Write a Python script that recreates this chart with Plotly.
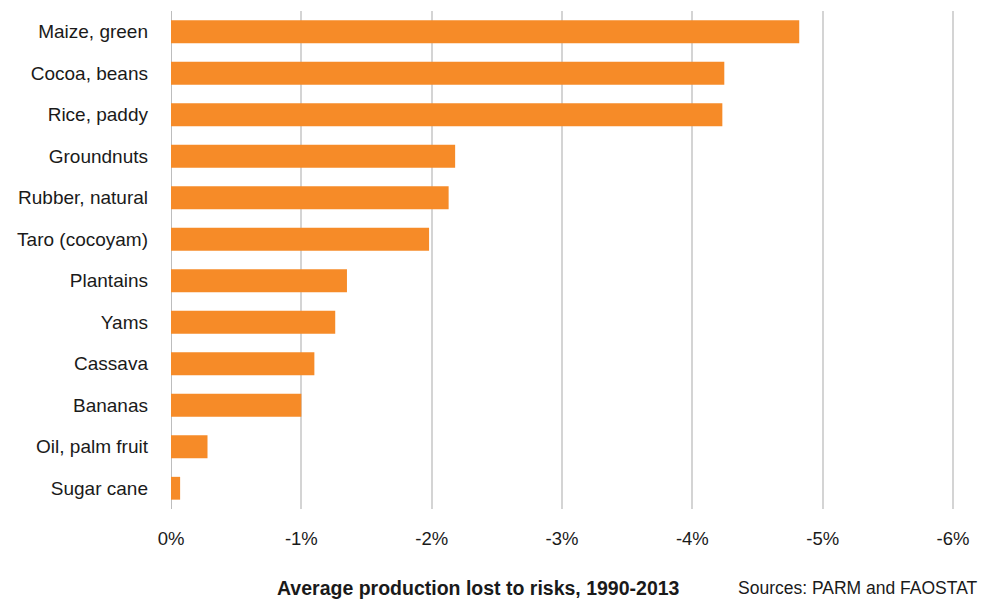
import plotly.graph_objects as go

crops = ["Maize, green", "Cocoa, beans", "Rice, paddy", "Groundnuts", "Rubber, natural",
         "Taro (cocoyam)", "Plantains", "Yams", "Cassava", "Bananas", "Oil, palm fruit", "Sugar cane"]
loss_pct = [-4.82, -4.245, -4.23, -2.18, -2.13, -1.98, -1.35, -1.26, -1.10, -1.00, -0.28, -0.07]

tick_vals = [0, -1, -2, -3, -4, -5, -6]
tick_text = ["0%", "-1%", "-2%", "-3%", "-4%", "-5%", "-6%"]

fig = go.Figure(go.Bar(
    x=loss_pct, y=crops, orientation="h",
    marker=dict(color="#F68B28", line=dict(width=0)),
))

font = "Liberation Sans, Arial, sans-serif"
fig.update_layout(
    width=984, height=606,
    margin=dict(l=171, r=29, t=11, b=97),
    paper_bgcolor="white", plot_bgcolor="white",
    bargap=0.45, showlegend=False,
    font=dict(family=font, size=18, color="#1a1a1a"),
    xaxis=dict(range=[0, -6.015], tickvals=tick_vals, ticktext=tick_text,
               showgrid=True, gridcolor="#d4d4d4", gridwidth=2,
               zeroline=False, showline=False, ticks="",
               ticklabelstandoff=16, tickfont=dict(size=18.5)),
    yaxis=dict(categoryorder="array", categoryarray=crops[::-1],
               showgrid=False, zeroline=False, showline=False, ticks="",
               ticklabelstandoff=22, tickfont=dict(size=19)),
    shapes=[dict(type="line", xref="x", yref="paper", x0=0, x1=0, y0=0, y1=1,
                 line=dict(color="#bdbdbd", width=2), layer="below")],
    annotations=[
        dict(text="<b>Average production lost to risks, 1990-2013</b>", xref="paper", yref="paper",
             x=(478 - 171) / 784, y=0, xanchor="center", yanchor="middle", yshift=-79,
             showarrow=False, font=dict(size=19.5, family=font, color="#1a1a1a")),
        dict(text="Sources: PARM and FAOSTAT", xref="paper", yref="paper",
             x=(980 - 171) / 784, y=0, xanchor="right", yanchor="middle", yshift=-79,
             showarrow=False, font=dict(size=17.5, family=font, color="#1a1a1a")),
    ],
)

fig.write_html("out.html")
